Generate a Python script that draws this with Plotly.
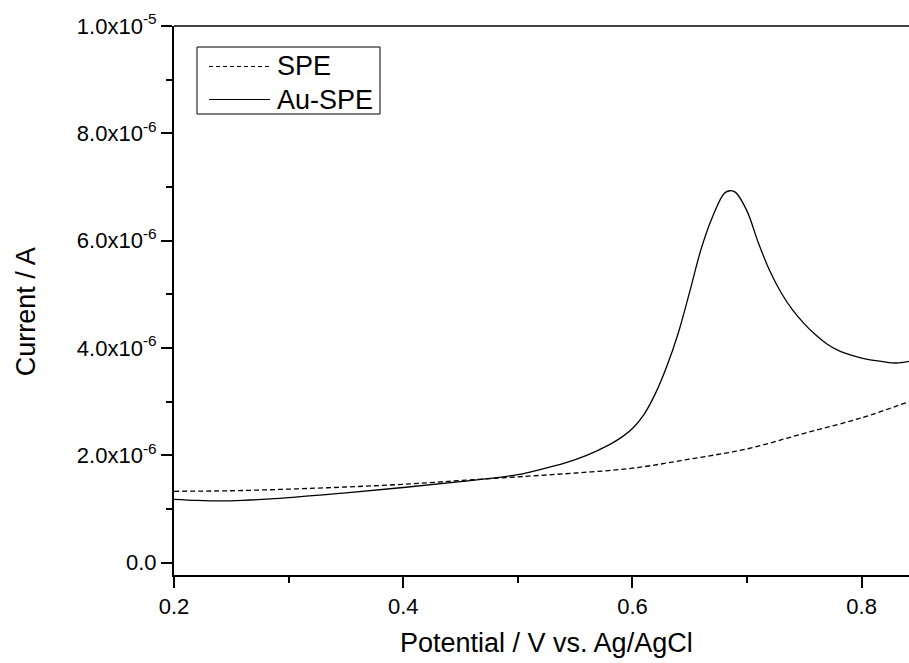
import plotly.graph_objects as go

# SPE (dashed) data: potential (V) vs current (µA)
spe_v = [0.20, 0.25, 0.30, 0.35, 0.40, 0.45, 0.50, 0.55, 0.60, 0.65, 0.70, 0.75, 0.80, 0.8413]
spe_i = [1.33, 1.34, 1.37, 1.41, 1.46, 1.53, 1.60, 1.67, 1.76, 1.93, 2.12, 2.41, 2.70, 3.00]

# Au-SPE (solid) data
au_v = [0.20, 0.22, 0.24, 0.26, 0.30, 0.35, 0.40, 0.45, 0.50, 0.52, 0.54, 0.56, 0.58, 0.59,
        0.60, 0.61, 0.62, 0.63, 0.64, 0.65, 0.66, 0.67, 0.68, 0.685, 0.69, 0.70, 0.71, 0.72,
        0.73, 0.74, 0.75, 0.76, 0.77, 0.78, 0.79, 0.80, 0.82, 0.83, 0.8413]
au_i = [1.18, 1.16, 1.15, 1.16, 1.21, 1.30, 1.40, 1.51, 1.64, 1.74, 1.85, 2.00, 2.20, 2.33,
        2.50, 2.76, 3.15, 3.66, 4.28, 5.05, 5.85, 6.45, 6.88, 6.93, 6.90, 6.55, 5.95, 5.43,
        5.02, 4.70, 4.45, 4.24, 4.07, 3.95, 3.87, 3.81, 3.74, 3.72, 3.75]

y_tickvals = [0, 2e-6, 4e-6, 6e-6, 8e-6, 1e-5]
y_ticktext = ["0.0", "2.0x10<sup>-6</sup>", "4.0x10<sup>-6</sup>", "6.0x10<sup>-6</sup>",
              "8.0x10<sup>-6</sup>", "1.0x10<sup>-5</sup>"]
x_tickvals = [0.2, 0.4, 0.6, 0.8]
x_ticktext = ["0.2", "0.4", "0.6", "0.8"]

legend_names = ["SPE", "Au-SPE"]

FONT = "Arial, Liberation Sans, sans-serif"

W, H = 909, 663
L, T = 174, 26
PW, PH = 909 - 174, 575 - 26
B = H - T - PH


def px(xp):
    return (xp - L) / PW


def py(yp):
    return 1 - (yp - T) / PH


fig = go.Figure()
fig.add_trace(go.Scatter(x=spe_v, y=[v * 1e-6 for v in spe_i], mode="lines", name=legend_names[0],
                         line=dict(color="black", width=1.3, dash="5px,3px", shape="spline")))
fig.add_trace(go.Scatter(x=au_v, y=[v * 1e-6 for v in au_i], mode="lines", name=legend_names[1],
                         line=dict(color="black", width=1.3, shape="spline")))

shapes = [
    # top frame line
    dict(type="line", xref="paper", yref="paper", x0=0, x1=1, y0=1, y1=1,
         line=dict(color="black", width=1.5)),
    # legend box
    dict(type="rect", xref="paper", yref="paper", x0=px(197), x1=px(380), y0=py(114), y1=py(47),
         line=dict(color="black", width=1), fillcolor="white", layer="above"),
    dict(type="line", xref="paper", yref="paper", x0=px(209), x1=px(270), y0=py(66.5), y1=py(66.5),
         line=dict(color="black", width=1.2, dash="4px,3px")),
    dict(type="line", xref="paper", yref="paper", x0=px(209), x1=px(270), y0=py(99.5), y1=py(99.5),
         line=dict(color="black", width=1.2)),
]

annotations = [
    dict(text="Potential / V vs. Ag/AgCl", xref="paper", yref="paper",
         x=px(546.5), y=py(643), xanchor="center", yanchor="middle",
         showarrow=False, font=dict(size=27, family=FONT)),
    dict(text="Current / A", xref="paper", yref="paper", textangle=-90,
         x=px(25.5), y=py(311.7), xanchor="center", yanchor="middle",
         showarrow=False, font=dict(size=27, family=FONT)),
    dict(text=legend_names[0], xref="paper", yref="paper", x=px(275), y=py(66.5),
         xanchor="left", yanchor="middle", showarrow=False, font=dict(size=27, family=FONT)),
    dict(text=legend_names[1], xref="paper", yref="paper", x=px(275), y=py(99.5),
         xanchor="left", yanchor="middle", showarrow=False, font=dict(size=27, family=FONT)),
]

fig.update_layout(
    width=W, height=H,
    margin=dict(l=L, r=0, t=T, b=B, pad=0),
    paper_bgcolor="white", plot_bgcolor="white",
    font=dict(family=FONT, color="black"),
    showlegend=False,
    xaxis=dict(range=[0.2, 0.8413], tickvals=x_tickvals, ticktext=x_ticktext,
               showgrid=False, zeroline=False, showline=True, linecolor="black", linewidth=2,
               ticks="outside", ticklen=11, tickwidth=2, tickcolor="black",
               tickfont=dict(size=22, family=FONT),
               minor=dict(tickvals=[0.3, 0.5, 0.7], ticks="outside", ticklen=6,
                          tickwidth=2, tickcolor="black")),
    yaxis=dict(range=[-0.23e-6, 1.0e-5], tickvals=y_tickvals, ticktext=y_ticktext,
               showgrid=False, zeroline=False, showline=True, linecolor="black", linewidth=2,
               ticks="outside", ticklen=11, tickwidth=2, tickcolor="black",
               tickfont=dict(size=22, family=FONT),
               minor=dict(tickvals=[1e-6, 3e-6, 5e-6, 7e-6, 9e-6], ticks="outside", ticklen=6,
                          tickwidth=2, tickcolor="black")),
    shapes=shapes,
    annotations=annotations,
)

fig.write_html(
    "out.html",
    config={"displayModeBar": False},
    post_script="document.body.style.margin='0px';document.documentElement.style.overflow='hidden';document.body.style.overflow='hidden';",
)
